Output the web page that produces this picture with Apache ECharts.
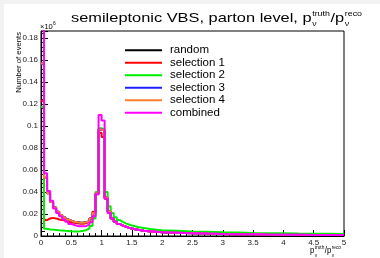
<!DOCTYPE html>
<html>
<head>
<meta charset="utf-8">
<script src="https://cdn.jsdelivr.net/npm/echarts@6/dist/echarts.min.js"></script>
<style>
  html, body { margin: 0; padding: 0; background: #f2f2f2; }
  #chart { width: 380px; height: 258px; }
</style>
</head>
<body>
<div id="chart"></div>
<script>
// bin edges: 0.05 wide up to 2, then 0.25 wide up to 5
const edges = [];
for (let i = 0; i <= 40; i++) edges.push(+(i * 0.05).toFixed(2));
for (let i = 1; i <= 12; i++) edges.push(2 + i * 0.25);

const seriesNames = ['random', 'selection 1', 'selection 2', 'selection 3', 'selection 4', 'combined'];
const seriesColors = ['#000000', '#ff0000', '#00ee00', '#2020ff', '#ff7f2a', '#ff00ff'];

const randomVals = [0.157, 0.053, 0.039, 0.031, 0.026, 0.022, 0.019, 0.017, 0.015, 0.014,
  0.013, 0.0125, 0.012, 0.012, 0.0125, 0.0135, 0.016, 0.021, 0.039, 0.097,
  0.096, 0.035, 0.022, 0.016, 0.013, 0.011, 0.0095, 0.0085, 0.0075, 0.0068,
  0.0062, 0.0057, 0.0052, 0.0048, 0.0045, 0.0042, 0.0040, 0.0038, 0.0036, 0.0034,
  0.0030, 0.0026, 0.0022, 0.0019, 0.0017, 0.0015, 0.0013, 0.0012, 0.0011, 0.0010, 0.0009, 0.0008];
const sel1Vals = [0.123, 0.0145, 0.016, 0.0165, 0.016, 0.015, 0.0145, 0.014, 0.013, 0.0125,
  0.012, 0.0115, 0.0112, 0.0112, 0.0118, 0.013, 0.016, 0.022, 0.038, 0.094,
  0.090, 0.034, 0.022, 0.016, 0.013, 0.011, 0.0095, 0.0085, 0.0075, 0.0068,
  0.0062, 0.0057, 0.0052, 0.0048, 0.0045, 0.0042, 0.0040, 0.0038, 0.0036, 0.0034,
  0.0030, 0.0026, 0.0022, 0.0019, 0.0017, 0.0015, 0.0013, 0.0012, 0.0011, 0.0010, 0.0009, 0.0008];
const sel2Vals = [0.1175, 0.0065, 0.006, 0.0058, 0.0055, 0.0052, 0.005, 0.0047, 0.0045, 0.0043,
  0.0042, 0.0042, 0.0044, 0.0048, 0.0055, 0.0068, 0.009, 0.016, 0.040, 0.098,
  0.097, 0.040, 0.027, 0.021, 0.017, 0.0145, 0.0128, 0.0115, 0.0105, 0.0095,
  0.0088, 0.0082, 0.0077, 0.0072, 0.0068, 0.0064, 0.0061, 0.0058, 0.0055, 0.0052,
  0.0047, 0.0042, 0.0038, 0.0034, 0.0031, 0.0028, 0.0026, 0.0024, 0.0022, 0.0021, 0.0020, 0.0019];
const sel3Vals = [0.157, 0.053, 0.039, 0.031, 0.026, 0.022, 0.019, 0.017, 0.015, 0.014,
  0.013, 0.0125, 0.012, 0.012, 0.0125, 0.0135, 0.016, 0.021, 0.039, 0.097,
  0.096, 0.035, 0.022, 0.016, 0.013, 0.011, 0.0095, 0.0085, 0.0075, 0.0068,
  0.0062, 0.0057, 0.0052, 0.0048, 0.0045, 0.0042, 0.0040, 0.0038, 0.0036, 0.0034,
  0.0030, 0.0026, 0.0022, 0.0019, 0.0017, 0.0015, 0.0013, 0.0012, 0.0011, 0.0010, 0.0009, 0.0008];
const sel4Vals = [0.157, 0.053, 0.039, 0.031, 0.026, 0.022, 0.019, 0.017, 0.015, 0.014,
  0.013, 0.0125, 0.012, 0.012, 0.0125, 0.0135, 0.016, 0.021, 0.039, 0.097,
  0.096, 0.035, 0.022, 0.016, 0.013, 0.011, 0.0095, 0.0085, 0.0075, 0.0068,
  0.0062, 0.0057, 0.0052, 0.0048, 0.0045, 0.0042, 0.0040, 0.0038, 0.0036, 0.0034,
  0.0030, 0.0026, 0.0022, 0.0019, 0.0017, 0.0015, 0.0013, 0.0012, 0.0011, 0.0010, 0.0009, 0.0008];
const combinedVals = [0.26, 0.057, 0.041, 0.032, 0.025, 0.021, 0.018, 0.015, 0.013, 0.011,
  0.010, 0.0092, 0.0088, 0.0088, 0.0092, 0.0105, 0.0125, 0.018, 0.038, 0.110,
  0.105, 0.034, 0.021, 0.016, 0.013, 0.011, 0.0095, 0.0085, 0.0075, 0.0068,
  0.0062, 0.0057, 0.0052, 0.0048, 0.0045, 0.0042, 0.0040, 0.0038, 0.0036, 0.0034,
  0.0030, 0.0026, 0.0022, 0.0019, 0.0017, 0.0015, 0.0013, 0.0012, 0.0011, 0.0010, 0.0009, 0.0008];

const allVals = [randomVals, sel1Vals, sel2Vals, sel3Vals, sel4Vals, combinedVals];

const yTickStep = 0.02;
const yMax = 0.1865;
const xTickStep = 0.5;

const FONT = '"Liberation Sans", Arial, sans-serif';

function histPoints(vals) {
  const pts = vals.map((v, i) => [edges[i], v]);
  pts.push([edges[vals.length], vals[vals.length - 1]]);
  return pts;
}

// measure text to lay out the title pieces
const mctx = document.createElement('canvas').getContext('2d');
function textW(t, size) {
  mctx.font = size + 'px ' + FONT;
  return mctx.measureText(t).width;
}

function superTitle(x0, yMid, big, small, parts, targetRight, supDy, subDy) {
  // parts: [main, sup1, sub1, mid, sup2, sub2]
  const [m1, s1, b1, m2, s2, b2] = parts;
  let cur = 0;
  const items = [];
  items.push({ t: m1, x: cur, size: big, dy: 0 });
  cur += textW(m1, big) + 0.5;
  items.push({ t: s1, x: cur, size: small, dy: supDy });
  items.push({ t: b1, x: cur, size: small, dy: subDy });
  cur += Math.max(textW(s1, small), textW(b1, small)) + 0.5;
  items.push({ t: m2, x: cur, size: big, dy: 0 });
  cur += textW(m2, big) + 0.5;
  items.push({ t: s2, x: cur, size: small, dy: supDy });
  items.push({ t: b2, x: cur, size: small, dy: subDy });
  cur += Math.max(textW(s2, small), textW(b2, small));
  const sx = (targetRight - x0) / cur;
  return items.map(it => ({
    type: 'text',
    x: x0 + it.x * sx,
    y: yMid + it.dy,
    scaleX: sx,
    silent: true,
    style: {
      text: it.t,
      fontFamily: FONT,
      fontSize: it.size,
      fill: '#000',
      textAlign: 'left',
      textVerticalAlign: 'middle'
    }
  }));
}

const chart = echarts.init(document.getElementById('chart'), null, { renderer: 'canvas' });

const graphics = [
  { type: 'rect', shape: { x: 4, y: 4, width: 376, height: 254 }, style: { fill: '#fff' }, z: -10, silent: true },
  ...superTitle(71, 18.5, 13, 7, ['semileptonic VBS, parton level, p', 'truth', 'ν', '/p', 'reco', 'ν'], 362, -4.5, 6),
  ...superTitle(310, 250.5, 9, 5.5, ['p', 'truth', 'ν', '/p', 'reco', 'ν'], 341, -3.5, 4.5),
  {
    type: 'text', x: 19, y: 32, rotation: Math.PI / 2, silent: true,
    style: { text: 'Number of events', fontFamily: FONT, fontSize: 7.7, fill: '#000', textAlign: 'right', textVerticalAlign: 'middle' }
  },
  {
    type: 'text', x: 40, y: 27, silent: true,
    style: { text: '×10', fontFamily: FONT, fontSize: 7.5, fill: '#000', textAlign: 'left', textVerticalAlign: 'middle' }
  },
  {
    type: 'text', x: 53, y: 24, silent: true,
    style: { text: '6', fontFamily: FONT, fontSize: 5, fill: '#000', textAlign: 'left', textVerticalAlign: 'middle' }
  }
];

const option = {
  backgroundColor: '#f2f2f2',
  animation: false,
  grid: {
    left: 41, right: 36, top: 31, bottom: 22,
    show: true, borderColor: '#000', borderWidth: 1, backgroundColor: 'transparent'
  },
  legend: {
    orient: 'vertical',
    left: 125,
    top: 44,
    padding: 0,
    icon: 'rect',
    itemWidth: 37,
    itemHeight: 2,
    itemGap: 0,
    selectedMode: false,
    data: seriesNames,
    textStyle: { fontFamily: FONT, fontSize: 11.5, color: '#000', lineHeight: 12.5, padding: [0, 0, 0, 3] }
  },
  xAxis: {
    type: 'value',
    min: 0,
    max: 5,
    interval: xTickStep,
    axisLine: { show: true, lineStyle: { color: '#000', width: 1 } },
    axisTick: { show: true, inside: true, length: 6, lineStyle: { color: '#000' } },
    minorTick: { show: true, splitNumber: 5, length: 3, lineStyle: { color: '#000' } },
    splitLine: { show: false },
    axisLabel: { fontFamily: FONT, fontSize: 8, color: '#222', margin: 3 }
  },
  yAxis: {
    type: 'value',
    min: 0,
    max: yMax,
    interval: yTickStep,
    axisLine: { show: true, lineStyle: { color: '#000', width: 1 } },
    axisTick: { show: true, inside: true, length: 7, lineStyle: { color: '#000' } },
    minorTick: { show: true, splitNumber: 5, length: 4, lineStyle: { color: '#000' } },
    splitLine: { show: false },
    axisLabel: { fontFamily: FONT, fontSize: 8, color: '#222', margin: 3, showMaxLabel: false }
  },
  series: seriesNames.map((name, i) => ({
    name: name,
    type: 'line',
    step: 'end',
    symbol: 'none',
    clip: true,
    data: histPoints(allVals[i]),
    itemStyle: { color: seriesColors[i] },
    lineStyle: { color: seriesColors[i], width: 2 }
  })),
  graphic: graphics
};

chart.setOption(option);
</script>
</body>
</html>
